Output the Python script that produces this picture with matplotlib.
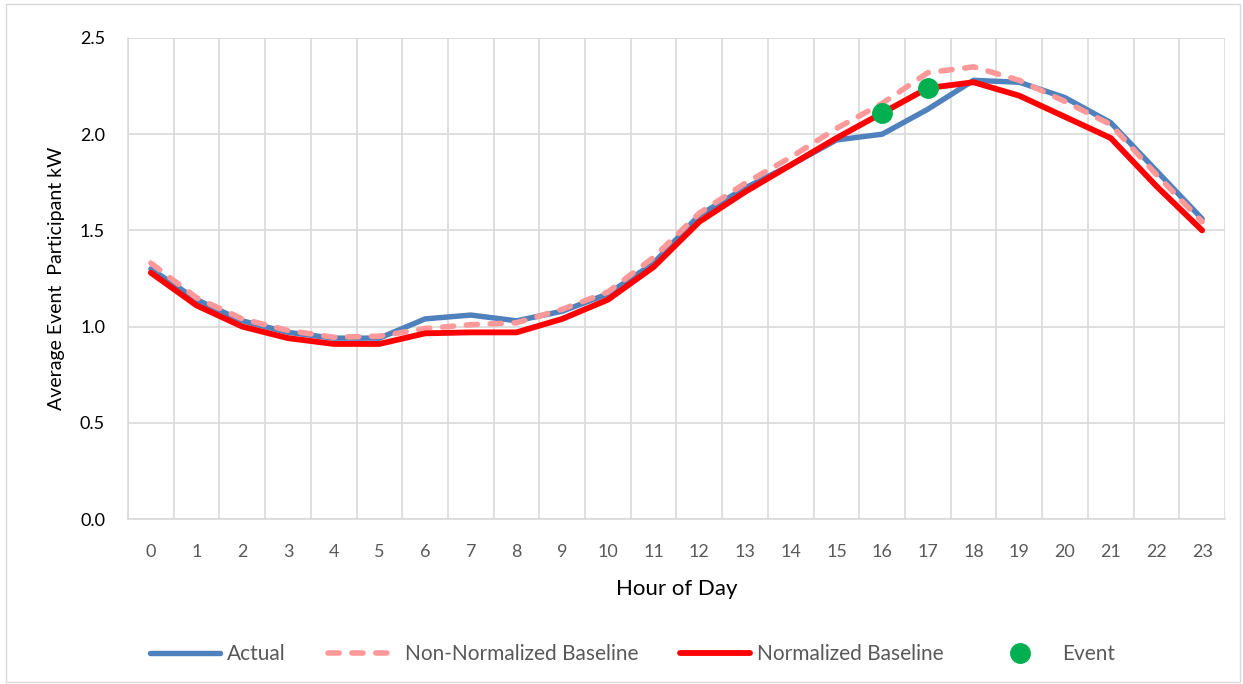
import matplotlib.pyplot as plt
from matplotlib.patches import Rectangle

hours = list(range(24))
actual = [1.30, 1.14, 1.03, 0.97, 0.94, 0.94, 1.04, 1.06, 1.03, 1.08, 1.17, 1.33,
          1.58, 1.72, 1.84, 1.97, 2.00, 2.13, 2.28, 2.27, 2.19, 2.06, 1.81, 1.56]
non_normalized = [1.33, 1.15, 1.04, 0.98, 0.945, 0.95, 0.99, 1.01, 1.02, 1.09, 1.18, 1.36,
                  1.59, 1.745, 1.88, 2.03, 2.16, 2.32, 2.35, 2.28, 2.17, 2.05, 1.79, 1.545]
normalized = [1.28, 1.11, 1.00, 0.94, 0.91, 0.91, 0.965, 0.97, 0.97, 1.04, 1.14, 1.31,
              1.545, 1.70, 1.84, 1.98, 2.11, 2.24, 2.27, 2.20, 2.09, 1.98, 1.73, 1.50]
event_hours = [16, 17]
event_kw = [2.11, 2.24]

plt.rcParams['font.family'] = ['Lato', 'DejaVu Sans']

fig = plt.figure(figsize=(12.43, 6.84), dpi=100)
ax = fig.add_axes([128 / 1243, 1 - 519 / 684, (1225 - 128) / 1243, (519 - 38) / 684])

# chart area frame
fig.patches.append(Rectangle((6 / 1243, 2 / 684), 1234 / 1243, 678 / 684,
                             transform=fig.transFigure, fill=False,
                             edgecolor='#d9d9d9', linewidth=1))

ax.plot(hours, actual, color='#4f81bd', linewidth=3.9, label='Actual',
        solid_capstyle='round', zorder=3)
ax.plot(hours, non_normalized, color='#ff9999', linewidth=4.0, linestyle=(0, (2.0, 2.3)),
        dash_capstyle='round', label='Non-Normalized Baseline', zorder=4)
ax.plot(hours, normalized, color='#ff0000', linewidth=4.2, label='Normalized Baseline',
        solid_capstyle='round', zorder=5)
ax.plot(event_hours, event_kw, linestyle='none', marker='o', markersize=14,
        color='#00b050', label='Event', zorder=6)

ax.set_xlim(-0.5, 23.5)
ax.set_ylim(0, 2.5)
ax.set_xticks(hours)
ax.set_xticks([h - 0.5 for h in hours] + [23.5], minor=True)
ax.set_yticks([0, 0.5, 1.0, 1.5, 2.0, 2.5])
ax.set_yticklabels(['0.0', '0.5', '1.0', '1.5', '2.0', '2.5'])
ax.tick_params(axis='x', which='both', length=0, labelsize=13, colors='#595959', pad=18)
ax.tick_params(axis='y', length=0, labelsize=13, labelcolor='black', pad=16.5)
ax.grid(axis='y', color='#d9d9d9', linewidth=1.2)
ax.grid(axis='x', which='minor', color='#d9d9d9', linewidth=1.2)
ax.set_axisbelow(True)
for side in ['top', 'right']:
    ax.spines[side].set_visible(False)
for side in ['left', 'bottom']:
    ax.spines[side].set_color('#d9d9d9')
    ax.spines[side].set_linewidth(1.2)

ax.set_xlabel('Hour of Day', fontsize=16, labelpad=14)
ax.set_ylabel('Average Event  Participant kW', fontsize=14, labelpad=11)

fig.legend(loc='center', bbox_to_anchor=(0.509, 1 - 654 / 684), ncol=4, frameon=False,
           fontsize=15, handlelength=3.35, columnspacing=2.0, handletextpad=0.35,
           labelcolor='#595959')

fig.savefig('out.png', dpi=100)
